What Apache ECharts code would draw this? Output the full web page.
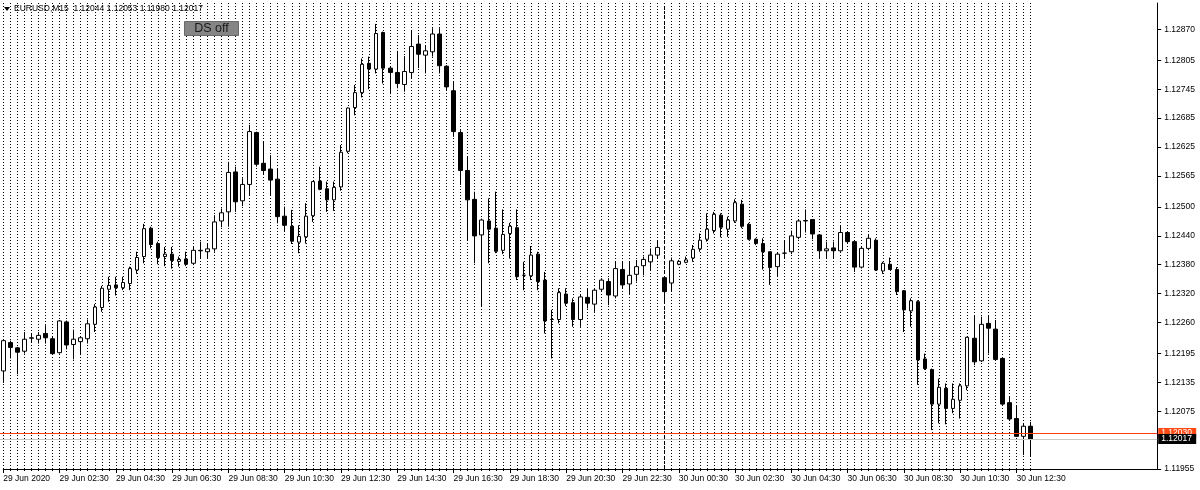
<!DOCTYPE html>
<html><head><meta charset="utf-8">
<script src="https://cdn.jsdelivr.net/npm/echarts@6/dist/echarts.min.js"></script>
<style>html,body{margin:0;padding:0;background:#fff}#c{width:1200px;height:490px}</style>
</head><body><div id="c"></div>
<script>
const symbolName = 'EURUSD,M15';
const xTickLabels = ['29 Jun 2020','29 Jun 02:30','29 Jun 04:30','29 Jun 06:30','29 Jun 08:30','29 Jun 10:30','29 Jun 12:30','29 Jun 14:30','29 Jun 16:30','29 Jun 18:30','29 Jun 20:30','29 Jun 22:30','30 Jun 00:30','30 Jun 02:30','30 Jun 04:30','30 Jun 06:30','30 Jun 08:30','30 Jun 10:30','30 Jun 12:30'];
const yTickValues = [1.12870,1.12805,1.12745,1.12685,1.12625,1.12565,1.12500,1.12440,1.12380,1.12320,1.12260,1.12195,1.12135,1.12075,1.11955];
const openP = [1.12159,1.12218,1.12207,1.12200,1.12227,1.12225,1.12237,1.12226,1.12197,1.12261,
1.12214,1.12220,1.12226,1.12256,1.12291,1.12329,1.12338,1.12332,1.12341,1.12369,
1.12397,1.12456,1.12424,1.12397,1.12402,1.12387,1.12392,1.12383,1.12409,1.12407,
1.12413,1.12471,1.12490,1.12573,1.12513,1.12547,1.12655,1.12591,1.12579,1.12558,
1.12481,1.12460,1.12427,1.12438,1.12482,1.12554,1.12538,1.12515,1.12542,1.12616,
1.12707,1.12738,1.12799,1.12787,1.12863,1.12789,1.12780,1.12755,1.12780,1.12839,
1.12816,1.12823,1.12860,1.12793,1.12742,1.12655,1.12576,1.12516,1.12442,1.12471,
1.12456,1.12410,1.12445,1.12457,1.12358,1.12357,1.12402,1.12348,1.12266,1.12266,
1.12319,1.12301,1.12266,1.12312,1.12298,1.12329,1.12345,1.12315,1.12370,1.12340,
1.12360,1.12378,1.12386,1.12400,1.12353,1.12342,1.12381,1.12385,1.12394,1.12413,
1.12433,1.12451,1.12483,1.12454,1.12471,1.12506,1.12464,1.12433,1.12424,1.12407,
1.12376,1.12404,1.12407,1.12437,1.12471,1.12474,1.12442,1.12409,1.12415,1.12409,
1.12447,1.12428,1.12375,1.12414,1.12431,1.12367,1.12381,1.12370,1.12326,1.12284,
1.12303,1.12184,1.12162,1.12090,1.12123,1.12081,1.12098,1.12128,1.12227,1.12180,
1.12258,1.12246,1.12185,1.12093,1.12060,1.12023,1.12044];
const highP = [1.12224,1.12222,1.12209,1.12240,1.12238,1.12240,1.12254,1.12230,1.12265,1.12264,
1.12245,1.12230,1.12266,1.12298,1.12336,1.12355,1.12355,1.12355,1.12376,1.12407,
1.12465,1.12459,1.12428,1.12417,1.12417,1.12397,1.12407,1.12417,1.12428,1.12424,
1.12483,1.12497,1.12594,1.12584,1.12560,1.12671,1.12657,1.12636,1.12608,1.12581,
1.12501,1.12494,1.12462,1.12508,1.12554,1.12584,1.12553,1.12553,1.12629,1.12707,
1.12754,1.12809,1.12813,1.12881,1.12865,1.12792,1.12825,1.12814,1.12868,1.12858,
1.12837,1.12872,1.12872,1.12795,1.12761,1.12660,1.12605,1.12532,1.12476,1.12518,
1.12532,1.12495,1.12467,1.12495,1.12386,1.12419,1.12407,1.12365,1.12286,1.12331,
1.12331,1.12310,1.12317,1.12331,1.12331,1.12352,1.12352,1.12386,1.12386,1.12386,
1.12390,1.12397,1.12414,1.12430,1.12354,1.12395,1.12390,1.12397,1.12421,1.12445,
1.12487,1.12490,1.12487,1.12480,1.12516,1.12515,1.12467,1.12435,1.12435,1.12407,
1.12405,1.12431,1.12451,1.12474,1.12495,1.12474,1.12442,1.12428,1.12428,1.12462,
1.12449,1.12428,1.12417,1.12442,1.12435,1.12386,1.12395,1.12375,1.12327,1.12310,
1.12306,1.12195,1.12164,1.12143,1.12133,1.12133,1.12133,1.12230,1.12275,1.12272,
1.12275,1.12265,1.12187,1.12105,1.12086,1.12050,1.12053];
const lowP = [1.12134,1.12185,1.12152,1.12195,1.12218,1.12216,1.12216,1.12194,1.12195,1.12204,
1.12183,1.12192,1.12216,1.12240,1.12282,1.12303,1.12316,1.12327,1.12327,1.12361,
1.12383,1.12414,1.12381,1.12377,1.12372,1.12376,1.12377,1.12379,1.12393,1.12393,
1.12407,1.12458,1.12459,1.12490,1.12502,1.12525,1.12584,1.12567,1.12525,1.12466,
1.12449,1.12423,1.12404,1.12424,1.12469,1.12535,1.12490,1.12492,1.12534,1.12612,
1.12691,1.12728,1.12745,1.12778,1.12757,1.12735,1.12747,1.12740,1.12768,1.12789,
1.12778,1.12813,1.12778,1.12743,1.12646,1.12546,1.12431,1.12383,1.12292,1.12383,
1.12404,1.12402,1.12393,1.12348,1.12327,1.12348,1.12327,1.12237,1.12185,1.12258,
1.12294,1.12251,1.12251,1.12289,1.12282,1.12324,1.12296,1.12310,1.12331,1.12317,
1.12345,1.12358,1.12369,1.12393,1.12305,1.12324,1.12379,1.12383,1.12386,1.12407,
1.12428,1.12445,1.12437,1.12438,1.12467,1.12456,1.12431,1.12421,1.12370,1.12338,
1.12355,1.12393,1.12402,1.12433,1.12447,1.12433,1.12393,1.12393,1.12393,1.12407,
1.12424,1.12365,1.12372,1.12410,1.12367,1.12361,1.12369,1.12317,1.12240,1.12251,
1.12130,1.12161,1.12036,1.12050,1.12048,1.12071,1.12060,1.12119,1.12171,1.12178,
1.12195,1.12182,1.12088,1.12057,1.12022,1.11984,1.11980];
const closeP = [1.12222,1.12208,1.12198,1.12225,1.12228,1.12233,1.12228,1.12195,1.12263,1.12213,
1.12225,1.12228,1.12257,1.12292,1.12331,1.12337,1.12332,1.12343,1.12372,1.12395,
1.12455,1.12422,1.12395,1.12402,1.12389,1.12391,1.12381,1.12410,1.12410,1.12413,
1.12469,1.12488,1.12572,1.12511,1.12547,1.12657,1.12589,1.12576,1.12556,1.12480,
1.12462,1.12429,1.12439,1.12481,1.12553,1.12537,1.12515,1.12541,1.12614,1.12706,
1.12738,1.12797,1.12787,1.12861,1.12789,1.12780,1.12757,1.12782,1.12834,1.12818,
1.12825,1.12860,1.12794,1.12750,1.12657,1.12576,1.12515,1.12440,1.12473,1.12454,
1.12408,1.12443,1.12460,1.12355,1.12358,1.12400,1.12345,1.12263,1.12266,1.12322,
1.12300,1.12266,1.12313,1.12300,1.12327,1.12348,1.12317,1.12372,1.12338,1.12358,
1.12376,1.12391,1.12400,1.12416,1.12324,1.12388,1.12387,1.12390,1.12412,1.12431,
1.12454,1.12485,1.12458,1.12473,1.12509,1.12460,1.12433,1.12424,1.12407,1.12374,
1.12402,1.12404,1.12440,1.12471,1.12472,1.12444,1.12409,1.12413,1.12409,1.12447,
1.12428,1.12375,1.12414,1.12435,1.12369,1.12383,1.12370,1.12324,1.12286,1.12305,
1.12182,1.12164,1.12090,1.12125,1.12081,1.12100,1.12128,1.12229,1.12178,1.12256,
1.12248,1.12183,1.12090,1.12059,1.12023,1.12044,1.12017];
const askPrice = 1.12030;
const emptySlots = 18;

const categories = [];
for (let i = 0; i < openP.length + emptySlots; i++) {
  const m = 30 + i * 15, d = 29 + Math.floor(m / 1440), mm = m % 1440;
  categories.push(d + ' Jun ' + String(Math.floor(mm / 60)).padStart(2, '0') + ':' + String(mm % 60).padStart(2, '0'));
}
const lastIdx = openP.length - 1;
const candles = openP.map((o, i) => [o, closeP[i], lowP[i], highP[i]]);
const FONT = 'Liberation Sans';

const chart = echarts.init(document.getElementById('c'), null, {renderer: 'canvas'});
const option = {
  animation: false,
  backgroundColor: '#fff',
  grid: {left: 3.3, right: 42.8, top: 3, bottom: 21, show: false},
  xAxis: [{
    type: 'category', data: categories, boundaryGap: false, position: 'bottom',
    axisLine: {show: true, lineStyle: {color: '#000', width: 1}},
    axisTick: {show: true, interval: (i) => i % 8 === 0 && i <= 144, length: 4, lineStyle: {color: '#000'}},
    axisLabel: {show: true, interval: (i) => i % 8 === 0 && i <= 144,
      formatter: (v, i) => xTickLabels[i / 8], align: 'left', margin: 5,
      fontSize: 8.5, fontFamily: FONT, color: '#000'},
    splitLine: {show: true, interval: (i) => i <= lastIdx, lineStyle: {color: '#000', type: [1, 2], width: 1}}
  }, {
    type: 'category', data: categories, boundaryGap: false, position: 'bottom',
    axisLine: {show: false},
    axisTick: {show: true, interval: (i) => i <= lastIdx, length: 2, lineStyle: {color: '#000'}},
    axisLabel: {show: false}, splitLine: {show: false}
  }],
  yAxis: {
    type: 'value', position: 'right', min: 1.11955, max: 1.129245, scale: true,
    axisLine: {show: true, lineStyle: {color: '#000'}},
    axisTick: {show: true, customValues: yTickValues, length: 4, lineStyle: {color: '#000'}},
    axisLabel: {show: true, customValues: yTickValues, formatter: (v) => v.toFixed(5), margin: 7,
      fontSize: 8.5, fontFamily: FONT, color: '#000'},
    splitLine: {show: false}
  },
  series: [{
    type: 'candlestick', xAxisIndex: 0, yAxisIndex: 0, data: candles, barWidth: 4, clip: false,
    itemStyle: {color: '#fff', color0: '#000', borderColor: '#000', borderColor0: '#000', borderWidth: 1},
    markLine: {
      silent: true, symbol: 'none', label: {show: false}, animation: false,
      data: [
        {xAxis: categories[94], lineStyle: {color: '#000', type: [3, 2], width: 1}}
      ]
    }
  }]
};
chart.setOption(option);

const yAsk = Math.round(chart.convertToPixel({yAxisIndex: 0}, askPrice));
const yBid = Math.round(chart.convertToPixel({yAxisIndex: 0}, closeP[lastIdx]));
const xRight = chart.convertToPixel({xAxisIndex: 0}, categories[categories.length - 1]);
const header = symbolName + '  ' + [openP[lastIdx], highP[lastIdx], lowP[lastIdx], closeP[lastIdx]].map(v => v.toFixed(5)).join(' ');
chart.setOption({
  graphic: [
    {type: 'rect', shape: {x: 0, y: yBid, width: xRight, height: 1}, style: {fill: '#c8c8c8'}, z: 90},
    {type: 'rect', shape: {x: 0, y: yAsk, width: xRight, height: 1}, style: {fill: '#ff3a10'}, z: 91},
    {type: 'polygon', shape: {points: [[4, 7], [10, 7], [7, 11]]}, style: {fill: '#000'}, z: 100},
    {type: 'text', x: 14, y: 9, style: {text: header, fontSize: 8.5, fontFamily: FONT, fill: '#000', verticalAlign: 'middle'}, z: 100},
    {type: 'rect', shape: {x: 184.5, y: 21.5, width: 54, height: 14}, style: {fill: '#858585', stroke: '#6a6a6a', lineWidth: 1}, z: 100},
    {type: 'text', x: 211.5, y: 29, style: {text: 'DS off', fontSize: 12.5, fontFamily: FONT, fill: '#1a1a1a', align: 'center', verticalAlign: 'middle'}, z: 101},
    {type: 'rect', shape: {x: xRight + 1, y: yAsk - 5, width: 38, height: 10}, style: {fill: '#ff4a14'}, z: 100},
    {type: 'text', x: xRight + 4, y: yAsk, style: {text: askPrice.toFixed(5), fontSize: 8.5, fontFamily: FONT, fill: '#fff', verticalAlign: 'middle'}, z: 101},
    {type: 'rect', shape: {x: xRight + 1, y: yBid - 5, width: 38, height: 10}, style: {fill: '#000'}, z: 102},
    {type: 'text', x: xRight + 4, y: yBid, style: {text: closeP[lastIdx].toFixed(5), fontSize: 8.5, fontFamily: FONT, fill: '#fff', verticalAlign: 'middle'}, z: 103}
  ]
});
</script></body></html>
